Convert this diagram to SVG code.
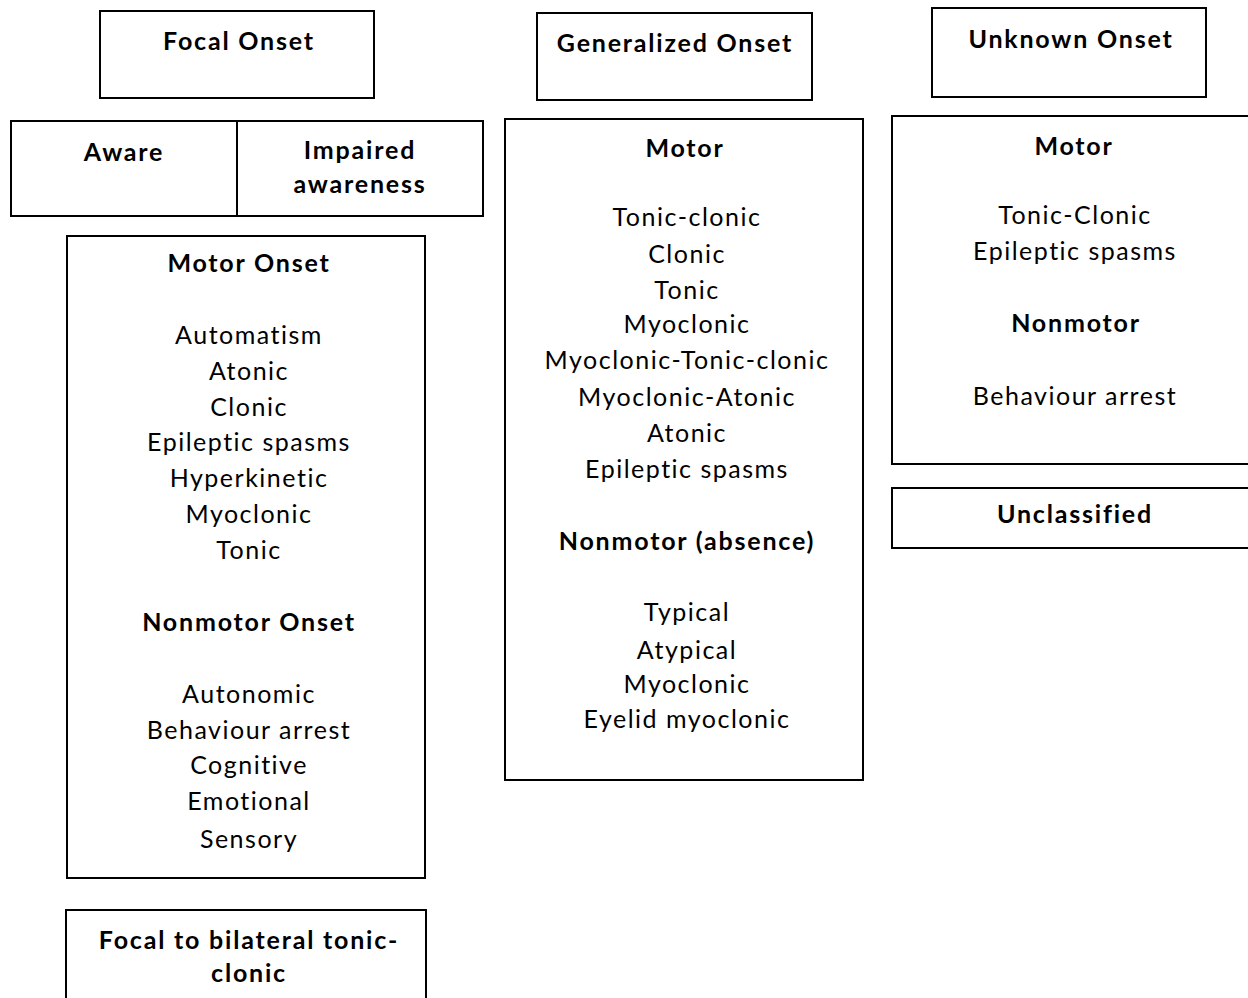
<svg xmlns="http://www.w3.org/2000/svg" width="1248" height="998" viewBox="0 0 1248 998">
<style>
.box{fill:#fff;stroke:#000;stroke-width:2}
text{font-family:Lato,"Open Sans",sans-serif;font-size:25px;letter-spacing:1.5px;fill:#000;text-anchor:middle}
.b{font-weight:bold;letter-spacing:1.8px}
</style>
<rect width="1248" height="998" fill="#fff"/>
<g id="connectors"></g>
<g id="focal-onset"><rect class="box" x="100" y="11" width="274" height="87"/><text class="b" x="239" y="50">Focal Onset</text></g>
<g id="awareness"><rect class="box" x="11" y="121" width="472" height="95"/><line x1="237" y1="121" x2="237" y2="216" stroke="#000" stroke-width="2"/>
<text class="b" x="124" y="161">Aware</text><text class="b" x="360" y="159">Impaired</text><text class="b" x="360" y="193">awareness</text></g>
<g id="focal-types"><rect class="box" x="67" y="236" width="358" height="642"/>
<text class="b" x="249" y="272">Motor Onset</text>
<text x="249" y="344">Automatism</text><text x="249" y="380">Atonic</text><text x="249" y="416">Clonic</text><text x="249" y="451">Epileptic spasms</text><text x="249" y="487">Hyperkinetic</text><text x="249" y="523">Myoclonic</text><text x="249" y="559">Tonic</text>
<text class="b" x="249" y="631">Nonmotor Onset</text>
<text x="249" y="703">Autonomic</text><text x="249" y="739">Behaviour arrest</text><text x="249" y="774">Cognitive</text><text x="249" y="810">Emotional</text><text x="249" y="848">Sensory</text></g>
<g id="focal-bilateral"><rect class="box" x="66" y="910" width="360" height="100"/><text class="b" x="249" y="949">Focal to bilateral tonic-</text><text class="b" x="249" y="982">clonic</text></g>
<g id="generalized-onset"><rect class="box" x="537" y="13" width="275" height="87"/><text class="b" x="675" y="52">Generalized Onset</text></g>
<g id="generalized-types"><rect class="box" x="505" y="119" width="358" height="661"/>
<text class="b" x="685" y="157">Motor</text>
<text x="687" y="226">Tonic-clonic</text><text x="687" y="263">Clonic</text><text x="687" y="299">Tonic</text><text x="687" y="333">Myoclonic</text><text x="687" y="369">Myoclonic-Tonic-clonic</text><text x="687" y="406">Myoclonic-Atonic</text><text x="687" y="442">Atonic</text><text x="687" y="478">Epileptic spasms</text>
<text class="b" x="687" y="550">Nonmotor (absence)</text>
<text x="687" y="621">Typical</text><text x="687" y="659">Atypical</text><text x="687" y="693">Myoclonic</text><text x="687" y="728">Eyelid myoclonic</text></g>
<g id="unknown-onset"><rect class="box" x="932" y="8" width="274" height="89"/><text class="b" x="1071" y="48">Unknown Onset</text></g>
<g id="unknown-types"><rect class="box" x="892" y="116" width="370" height="348"/>
<text class="b" x="1074" y="155">Motor</text>
<text x="1075" y="224">Tonic-Clonic</text><text x="1075" y="260">Epileptic spasms</text>
<text class="b" x="1076" y="332">Nonmotor</text>
<text x="1075" y="405">Behaviour arrest</text></g>
<g id="unclassified"><rect class="box" x="892" y="488" width="370" height="60"/><text class="b" x="1075" y="523">Unclassified</text></g>
</svg>
